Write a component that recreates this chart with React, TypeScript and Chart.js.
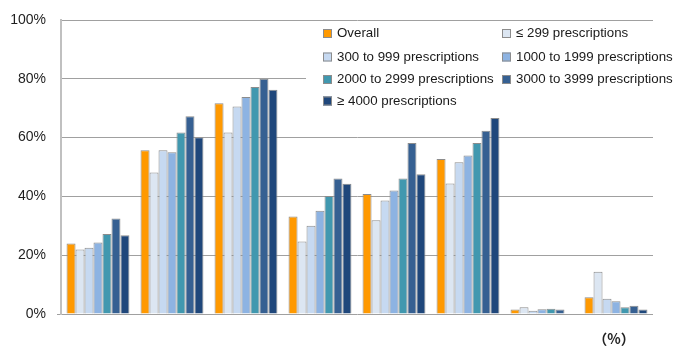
import React, { useEffect, useRef } from "react";
import { Chart, registerables } from "chart.js";

Chart.register(...registerables);

// Eight groups, no category labels are shown under the axis
const categories = ["1", "2", "3", "4", "5", "6", "7", "8"];

const seriesNames = [
  "Overall",
  "≤ 299 prescriptions",
  "300 to 999 prescriptions",
  "1000 to 1999 prescriptions",
  "2000 to 2999 prescriptions",
  "3000 to 3999 prescriptions",
  "≥ 4000 prescriptions",
];

const overall = [24.0, 55.7, 71.7, 33.2, 40.8, 52.7, 1.5, 5.7];
const upTo299 = [21.9, 48.1, 61.7, 24.7, 31.9, 44.4, 2.3, 14.4];
const from300 = [22.5, 55.7, 70.6, 30.0, 38.6, 51.6, 1.1, 5.2];
const from1000 = [24.3, 55.0, 73.8, 35.1, 42.0, 53.9, 1.6, 4.3];
const from2000 = [27.2, 61.7, 77.2, 40.1, 46.1, 58.2, 1.8, 2.3];
const from3000 = [32.5, 67.3, 80.0, 46.1, 58.2, 62.3, 1.5, 2.8];
const from4000 = [26.8, 60.1, 76.3, 44.3, 47.5, 66.7, null, 1.5];

const seriesValues = [overall, upTo299, from300, from1000, from2000, from3000, from4000];
const seriesColors = ["#FF9900", "#DCE6F2", "#C6D9F1", "#8DB3E2", "#4198AF", "#366092", "#1F477B"];

const yTicks = [0, 20, 40, 60, 80, 100];
const unitLabel = "（%）";

const FONT = "'Liberation Sans', Arial, sans-serif";

// Two-column legend drawn over a white panel inside the plot area
const legendPanel = {
  id: "legendPanel",
  afterDatasetsDraw(chart: any) {
    const ctx = chart.ctx as CanvasRenderingContext2D;
    ctx.save();
    ctx.fillStyle = "#FFFFFF";
    ctx.fillRect(306, 22, 350, 90);
    const cols = [323, 502];
    const rows = [33.5, 57, 79.5, 101];
    ctx.font = `13.3px ${FONT}`;
    ctx.textBaseline = "middle";
    ctx.textAlign = "left";
    seriesNames.forEach((name, i) => {
      const x = cols[i % 2];
      const y = rows[Math.floor(i / 2)];
      ctx.fillStyle = seriesColors[i];
      ctx.fillRect(x, y - 4.5, 9, 9);
      ctx.strokeStyle = "#8C8C8C";
      ctx.lineWidth = 1;
      ctx.strokeRect(x + 0.5, y - 4, 8, 8);
      ctx.fillStyle = "#1A1A1A";
      ctx.fillText(name, x + 14, y);
    });
    ctx.font = `bold 14px 'Noto Sans CJK JP', ${FONT}`;
    ctx.textAlign = "center";
    ctx.fillStyle = "#222222";
    ctx.fillText(unitLabel, 614, 339);
    ctx.restore();
  },
};

export default function App() {
  const canvasRef = useRef<HTMLCanvasElement | null>(null);

  useEffect(() => {
    if (!canvasRef.current) return;
    const chart = new Chart(canvasRef.current, {
      type: "bar",
      data: {
        labels: categories,
        datasets: seriesNames.map((name, i) => ({
          label: name,
          data: seriesValues[i] as any,
          backgroundColor: seriesColors[i],
          borderColor: "#8C8C8C",
          borderWidth: 1,
          categoryPercentage: 0.85,
          barPercentage: 1.0,
        })),
      },
      options: {
        responsive: false,
        animation: false,
        layout: { padding: { left: 0, right: 21, top: 20, bottom: 0 } },
        plugins: {
          legend: { display: false },
          tooltip: { enabled: false },
        },
        scales: {
          x: {
            grid: { display: false },
            border: { display: false },
            ticks: { display: false },
            afterFit: (scale: any) => {
              scale.height = 33;
            },
          },
          y: {
            min: 0,
            max: 100,
            afterBuildTicks: (scale: any) => {
              scale.ticks = yTicks.map((v) => ({ value: v }));
            },
            ticks: {
              padding: 11,
              color: "#1F1F1F",
              font: { family: FONT, size: 14 },
              callback: (v: any) => `${v}%`,
            },
            grid: {
              color: "#A0A0A0",
              lineWidth: 1,
              drawTicks: true,
              tickLength: 4,
              tickColor: (c: any) => (c.tick && c.tick.value === 0 ? "#A0A0A0" : "rgba(0,0,0,0)"),
            },
            border: { display: true, color: "#C0C0C0", width: 2 },
            afterFit: (scale: any) => {
              scale.width = 61;
            },
          },
        },
      },
      plugins: [legendPanel],
    });
    return () => chart.destroy();
  }, []);

  return (
    <div style={{ position: "fixed", left: 0, top: 0, width: 674, height: 347, background: "#FFFFFF" }}>
      <canvas ref={canvasRef} width={674} height={347} />
    </div>
  );
}
